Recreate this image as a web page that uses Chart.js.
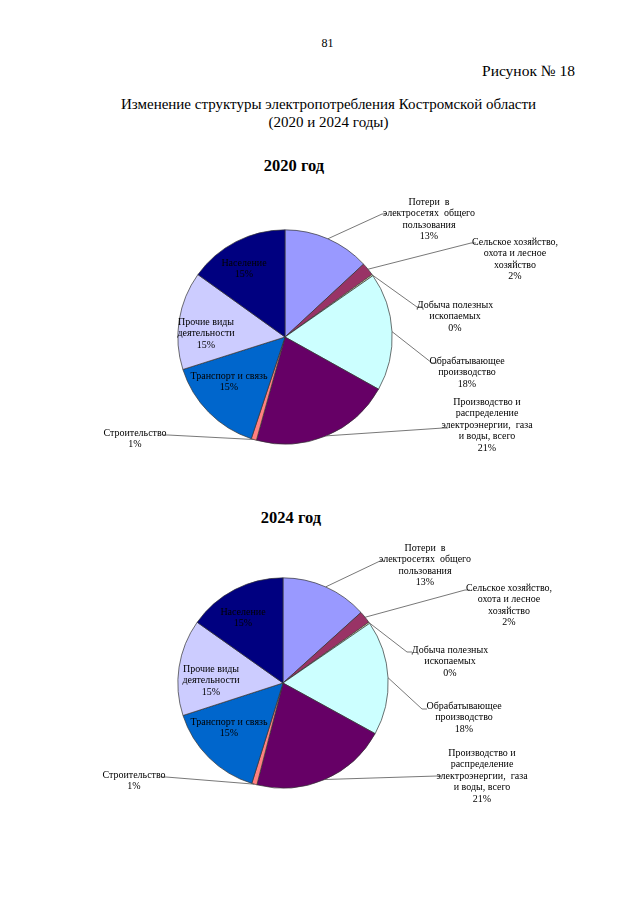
<!DOCTYPE html>
<html lang="ru">
<head>
<meta charset="utf-8">
<title>Рисунок № 18</title>
<script src="https://cdn.jsdelivr.net/npm/chart.js@4/dist/chart.umd.min.js"></script>
<style>
  body { margin: 0; background: #fff; }
  #page { position: relative; width: 640px; height: 905px; font-family: "Liberation Serif", "DejaVu Serif", serif; color: #000; }
  .txt { position: absolute; white-space: nowrap; }
  canvas { position: absolute; left: 0; }
</style>
</head>
<body>
<div id="page">
  <div class="txt" style="left:0;width:655px;top:36px;text-align:center;font-size:12px;">81</div>
  <div class="txt" style="right:65px;top:62px;font-size:15.5px;line-height:18px;">Рисунок № 18</div>
  <div class="txt" style="left:0;width:657px;top:95px;text-align:center;font-size:15px;line-height:18px;">
    Изменение структуры электропотребления Костромской области<br>(2020 и 2024 годы)
  </div>
  <div class="txt" style="left:194px;width:200px;top:156px;text-align:center;font-size:16.5px;line-height:20px;font-weight:bold;">2020 год</div>
  <div class="txt" style="left:191px;width:200px;top:508px;text-align:center;font-size:16.5px;line-height:20px;font-weight:bold;">2024 год</div>
  <canvas id="chart2020" width="640" height="330" style="top:140px"></canvas>
  <canvas id="chart2024" width="640" height="330" style="top:490px"></canvas>
</div>

<script>
// Категории (строки подписи)
const categories = [
  ["Потери  в", "электросетях  общего", "пользования"],
  ["Сельское хозяйство,", "охота и лесное", "хозяйство"],
  ["Добыча полезных", "ископаемых"],
  ["Обрабатывающее", "производство"],
  ["Производство и", "распределение", "электроэнергии,  газа", "и воды, всего"],
  ["Строительство"],
  ["Транспорт и связь"],
  ["Прочие виды", "деятельности"],
  ["Население"]
];

// Доли, % (оценка по рисунку)
const share2020 = [13.1, 2.0, 0.2, 17.8, 21.2, 0.8, 15.0, 14.8, 15.1];
const share2024 = [13.3, 1.9, 0.2, 17.6, 21.0, 0.8, 15.2, 14.8, 15.2];

const sliceColors = ["#9999FF", "#993366", "#FFFFCC", "#CCFFFF", "#660066",
                     "#FF8080", "#0066CC", "#CCCCFF", "#000080"];

// Положение подписей относительно центра круга (tx, ty - первая строка; lx, ly - конец выноски)
const labels2020 = [
  { tx: 144, ty: -135, lx: 97, ly: -123 },
  { tx: 230, ty: -95, lx: 186, ly: -94 },
  { tx: 170, ty: -32, lx: 132, ly: -30 },
  { tx: 182, ty: 24, lx: 147, ly: 26 },
  { tx: 202, ty: 65, lx: 158, ly: 91 },
  { tx: -150, ty: 96, lx: -117, ly: 98, left: true },
  { tx: -56, ty: 39 },
  { tx: -79, ty: -15 },
  { tx: -41, ty: -74 }
];
const labels2024 = [
  { tx: 142, ty: -135, lx: 97, ly: -122 },
  { tx: 226, ty: -95, lx: 182, ly: -93 },
  { tx: 167, ty: -33, lx: 124, ly: -31 },
  { tx: 181, ty: 23, lx: 139, ly: 26 },
  { tx: 199, ty: 70, lx: 154, ly: 93 },
  { tx: -149, ty: 92, lx: -117, ly: 94, left: true },
  { tx: -54, ty: 39 },
  { tx: -72, ty: -14 },
  { tx: -40, ty: -71 }
];

// Подписи с выносками
const sliceLabels = {
  id: "sliceLabels",
  afterDatasetsDraw(chart, args, opts) {
    const ctx = chart.ctx;
    const meta = chart.getDatasetMeta(0);
    const values = chart.data.datasets[0].data;
    const total = values.reduce((a, b) => a + b, 0);
    ctx.save();
    ctx.font = '10px "Liberation Serif", serif';
    ctx.fillStyle = "#000";
    ctx.textAlign = "center";
    ctx.textBaseline = "middle";
    meta.data.forEach((arc, i) => {
      const p = arc.getProps(["x", "y", "startAngle", "endAngle", "outerRadius"], true);
      const pos = opts.layout[i];
      if (pos.lx !== undefined) {
        const mid = (p.startAngle + p.endAngle) / 2;
        const sx = p.x + Math.cos(mid) * p.outerRadius;
        const sy = p.y + Math.sin(mid) * p.outerRadius;
        const ex = p.x + pos.lx, ey = p.y + pos.ly;
        ctx.beginPath();
        ctx.strokeStyle = "#555";
        ctx.lineWidth = 0.8;
        ctx.moveTo(sx, sy);
        ctx.lineTo(ex, ey);
        ctx.lineTo(ex + (pos.left ? -5 : 5), ey);
        ctx.stroke();
      }
      const lines = categories[i].concat([Math.round(values[i] / total * 100) + "%"]);
      lines.forEach((t, k) => ctx.fillText(t, p.x + pos.tx, p.y + pos.ty + k * 11.5));
    });
    ctx.restore();
  }
};

function padFor(cx, cy, r, w, h) {
  const s = 2 * r + 1;
  return { left: cx - r - 0.5, right: w - (cx - r - 0.5) - s, top: cy - r - 0.5, bottom: h - (cy - r - 0.5) - s };
}

function makePie(id, values, layout, pad) {
  return new Chart(document.getElementById(id), {
    type: "pie",
    data: {
      labels: categories.map(c => c.join(" ")),
      datasets: [{
        data: values,
        backgroundColor: sliceColors,
        borderColor: "#333",
        borderWidth: 0.7
      }]
    },
    options: {
      responsive: false,
      animation: false,
      layout: { padding: pad },
      plugins: {
        legend: { display: false },
        tooltip: { enabled: false },
        sliceLabels: { layout: layout }
      }
    },
    plugins: [sliceLabels]
  });
}

document.addEventListener("DOMContentLoaded", function() {
  makePie("chart2020", share2020, labels2020, padFor(285, 197, 107, 640, 330));
  makePie("chart2024", share2024, labels2024, padFor(283, 193, 105, 640, 330));
});
</script>
</body>
</html>
